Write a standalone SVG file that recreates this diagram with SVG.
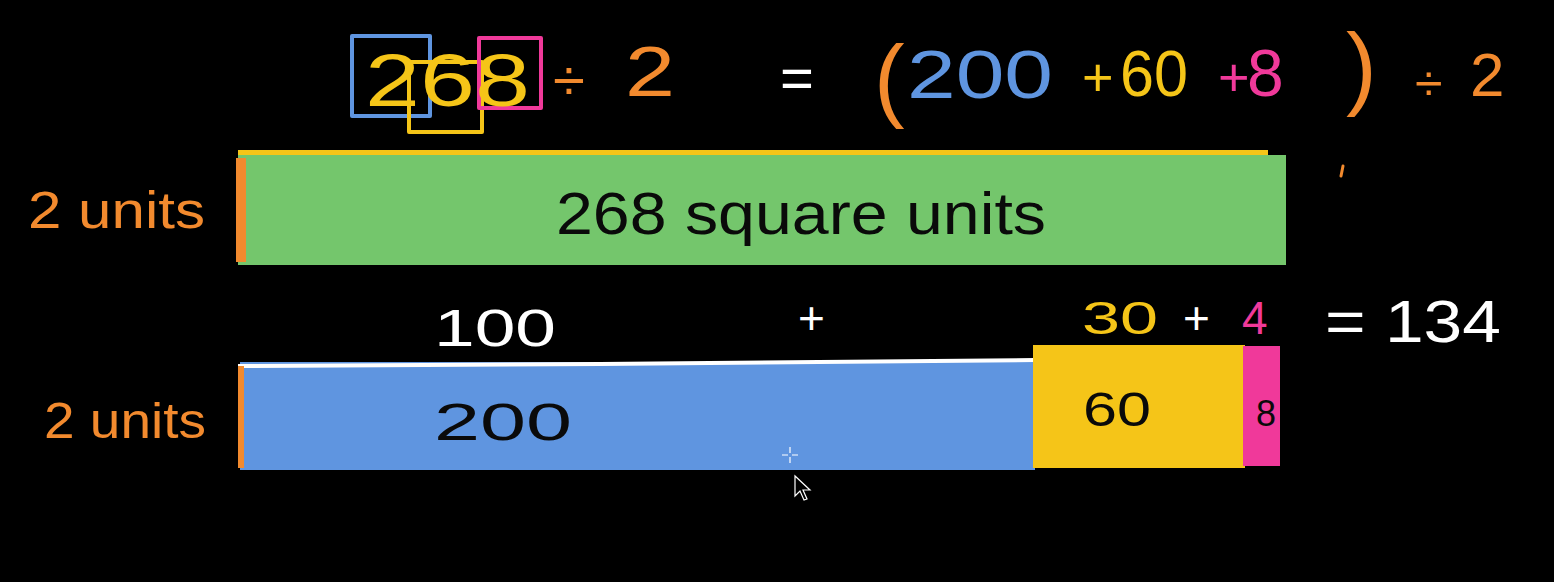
<svg xmlns="http://www.w3.org/2000/svg" width="1554" height="582" viewBox="0 0 1554 582">
<style>
text{font-family:"Liberation Sans","DejaVu Sans",sans-serif;}
.or{fill:#f28a2e}.bl{fill:#5f95e0}.ye{fill:#f5c518}.pk{fill:#f0399a}.wh{fill:#ffffff}.bk{fill:#0a0a0a}
.box{fill:none;stroke-width:4;stroke-linejoin:round}
</style>
<rect width="1554" height="582" fill="#000"/>
<g id="equation">
  <rect class="box" x="352" y="36" width="78" height="80" stroke="#5f95e0"/>
  <rect class="box" x="409" y="62" width="73" height="70" stroke="#f5c518"/>
  <rect class="box" x="479" y="38" width="62" height="70" stroke="#f0399a"/>
  <text class="ye" x="365" y="106" font-size="74" textLength="165" lengthAdjust="spacingAndGlyphs">268</text>
  <text class="or" x="553" y="100" font-size="58">÷</text>
  <text class="or" x="625" y="96" font-size="70" textLength="50" lengthAdjust="spacingAndGlyphs">2</text>
  <text class="wh" x="780" y="98" font-size="58">=</text>
  <text class="or" x="874" y="110" font-size="92">(</text>
  <text class="bl" x="907" y="98" font-size="68" textLength="146" lengthAdjust="spacingAndGlyphs">200</text>
  <text class="ye" x="1082" y="96" font-size="54">+</text>
  <text class="ye" x="1120" y="96" font-size="64" textLength="68" lengthAdjust="spacingAndGlyphs">60</text>
  <text class="pk" x="1218" y="96" font-size="54">+</text>
  <text class="pk" x="1247" y="96" font-size="66">8</text>
  <text class="or" x="1346" y="98" font-size="92">)</text>
  <text class="or" x="1415" y="100" font-size="50">÷</text>
  <text class="or" x="1470" y="96" font-size="62">2</text>
  <path d="M1343 166 L1341 176" stroke="#f28a2e" stroke-width="3" stroke-linecap="round"/>
</g>
<g id="green-bar">
  <rect x="238" y="150" width="1030" height="8" fill="#f5c518"/>
  <rect x="238" y="155" width="1048" height="110" fill="#74c66c"/>
  <rect x="236" y="158" width="10" height="104" fill="#f28a2e"/>
  <text class="bk" x="556" y="234" font-size="60" textLength="490" lengthAdjust="spacingAndGlyphs">268 square units</text>
</g>
<g id="label-top">
  <text class="or" x="28" y="228" font-size="52" textLength="177" lengthAdjust="spacingAndGlyphs">2 units</text>
</g>
<g id="sum-row">
  <text class="wh" x="434" y="346" font-size="52" textLength="122" lengthAdjust="spacingAndGlyphs">100</text>
  <text class="wh" x="798" y="334" font-size="46">+</text>
  <text class="ye" x="1082" y="334" font-size="46" textLength="76" lengthAdjust="spacingAndGlyphs">30</text>
  <text class="wh" x="1183" y="334" font-size="46">+</text>
  <text class="pk" x="1242" y="334" font-size="46">4</text>
  <text class="wh" x="1325" y="342" font-size="60" textLength="176" lengthAdjust="spacingAndGlyphs">= 134</text>
</g>
<g id="blue-bar">
  <rect x="240" y="362" width="795" height="108" fill="#5f95e0"/>
  <path d="M238 366 L600 364 L1035 360" stroke="#ffffff" stroke-width="4" fill="none"/>
  <rect x="238" y="366" width="6" height="102" fill="#f28a2e"/>
  <text class="bk" x="434" y="440" font-size="52" textLength="138" lengthAdjust="spacingAndGlyphs">200</text>
</g>
<g id="yellow-bar">
  <rect x="1033" y="345" width="212" height="123" fill="#f5c518"/>
  <text class="bk" x="1083" y="426" font-size="48" textLength="68" lengthAdjust="spacingAndGlyphs">60</text>
</g>
<g id="pink-bar">
  <rect x="1243" y="346" width="37" height="120" fill="#f0399a"/>
  <text class="bk" x="1256" y="426" font-size="36">8</text>
</g>
<g id="label-bottom">
  <text class="or" x="44" y="438" font-size="50" textLength="162" lengthAdjust="spacingAndGlyphs">2 units</text>
</g>
<g id="cursor">
  <path d="M790 447 V453 M790 457 V463 M782 455 H788 M792 455 H798" stroke="#ffffff" stroke-width="1.2"/>
  <path d="M795 476 L795 496 L800 491 L804 500 L807 499 L803 490 L810 490 Z" fill="#000" stroke="#fff" stroke-width="1.2"/>
</g>
</svg>
